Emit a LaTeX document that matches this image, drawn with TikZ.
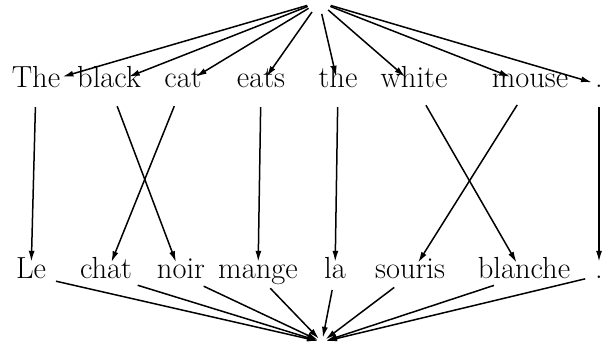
\documentclass[tikz,border=0pt]{standalone}
\usetikzlibrary{arrows.meta}
\begin{document}
\begin{tikzpicture}[x=1pt,y=-1pt,
  word/.style={anchor=base,inner sep=3pt,text height=0.7em,text depth=0.2em,font=\fontsize{30.5}{36}\selectfont},
  arr/.style={line width=1.5pt,-{Latex[length=11pt,width=6pt]}},
  vert/.style={arr,shorten <=15pt,shorten >=6pt},
  upw/.style={arr,shorten <=7pt}]
\useasboundingbox (0,0) rectangle (604,345);
\node[circle,inner sep=0pt,minimum size=24pt] (top) at (319,2) {};
\node[circle,inner sep=0pt,minimum size=8pt] (bot) at (322,342) {};
% English
\node[word] (e1) at (36,87) {The};
\node[word] (e2) at (109,87) {black};
\node[word] (e3) at (183,87) {cat};
\node[word] (e4) at (261,87) {eats};
\node[word] (e5) at (338,87) {the};
\node[word] (e6) at (414,87) {white};
\node[word] (e7) at (530,87) {mouse};
\node[word] (e8) at (599,87) {.};
% French
\node[word] (f1) at (31,278) {Le};
\node[word] (f2) at (106,278) {chat};
\node[word] (f3) at (181,278) {noir};
\node[word] (f4) at (258,278) {mange};
\node[word] (f5) at (335,278) {la};
\node[word] (f6) at (410,278) {souris};
\node[word] (f7) at (524,278) {blanche};
\node[word] (f8) at (599,278) {.};
% top fan
\foreach \i in {1,...,8} \draw[arr] (top) -- (e\i);
% alignment
\draw[vert] (e1) -- (f1);
\draw[vert] (e2) -- (f3);
\draw[vert] (e3) -- (f2);
\draw[vert] (e4) -- (f4);
\draw[vert] (e5) -- (f5);
\draw[vert] (e6) -- (f7);
\draw[vert] (e7) -- (f6);
\draw[vert] (e8) -- (f8);
% bottom fan
\foreach \i in {1,...,8} \draw[upw] (f\i) -- (bot);
\end{tikzpicture}
\end{document}
